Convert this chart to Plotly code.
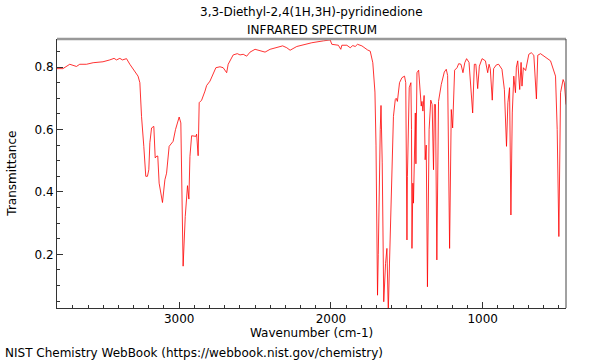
import plotly.graph_objects as go

wavenumber = [
    3805, 3766, 3721, 3677, 3655, 3611, 3567, 3502, 3457, 3429, 3413, 3391, 3374, 3347,
    3325, 3292, 3271, 3259, 3248, 3233, 3220, 3209, 3200, 3193, 3182, 3167, 3158, 3147,
    3141, 3132, 3110, 3094, 3083, 3066, 3040, 3024, 3000, 2989, 2974, 2960, 2945, 2936,
    2929, 2918, 2890, 2885, 2875, 2868, 2852, 2830, 2819, 2797, 2775, 2758, 2731, 2710,
    2687, 2677, 2644, 2617, 2599, 2578, 2555, 2533, 2500, 2467, 2434, 2401, 2357, 2318,
    2291, 2269, 2225, 2126, 2050, 2005, 1994, 1951, 1935, 1928, 1895, 1873, 1856, 1840,
    1825, 1796, 1759, 1741, 1724, 1719, 1710, 1703, 1697, 1693, 1688, 1684, 1675, 1670,
    1665, 1662, 1652, 1645, 1640, 1631, 1627, 1622, 1614, 1605, 1598, 1588, 1576, 1570,
    1562, 1548, 1532, 1515, 1507, 1501, 1499, 1496, 1490, 1484, 1473, 1469, 1466, 1460,
    1456, 1449, 1444, 1440, 1433, 1422, 1411, 1405, 1400, 1394, 1386, 1379, 1372, 1364,
    1353, 1342, 1333, 1324, 1318, 1311, 1302, 1291, 1273, 1253, 1240, 1231, 1218, 1207,
    1198, 1193, 1185, 1169, 1158, 1143, 1130, 1118, 1106, 1090, 1066, 1055, 1045, 1033,
    1022, 1004, 982, 967, 958, 950, 937, 928, 910, 895, 873, 857, 843, 834,
    823, 814, 805, 795, 784, 778, 769, 756, 747, 741, 732, 717, 696, 680,
    663, 646, 637, 619, 586, 553, 520, 509, 498, 487, 470, 462, 451,
]
transmittance = [
    0.795, 0.795, 0.809, 0.802, 0.809, 0.809, 0.814, 0.817, 0.823, 0.828, 0.823, 0.828, 0.823, 0.827,
    0.809, 0.787, 0.771, 0.750, 0.642, 0.546, 0.450, 0.450, 0.471, 0.558, 0.605, 0.610, 0.509, 0.515,
    0.515, 0.428, 0.366, 0.439, 0.460, 0.546, 0.562, 0.600, 0.640, 0.621, 0.162, 0.321, 0.420, 0.377,
    0.514, 0.580, 0.578, 0.585, 0.516, 0.686, 0.694, 0.723, 0.741, 0.755, 0.782, 0.798, 0.801, 0.798,
    0.782, 0.809, 0.839, 0.843, 0.839, 0.841, 0.835, 0.848, 0.857, 0.853, 0.848, 0.857, 0.862, 0.868,
    0.862, 0.854, 0.866, 0.878, 0.884, 0.887, 0.873, 0.870, 0.857, 0.870, 0.870, 0.862, 0.869, 0.866,
    0.873, 0.868, 0.855, 0.851, 0.814, 0.782, 0.720, 0.550, 0.350, 0.069, 0.200, 0.385, 0.600, 0.677,
    0.600, 0.493, 0.048, 0.130, 0.171, 0.219, 0.100, 0.015, 0.172, 0.350, 0.494, 0.642, 0.696, 0.700,
    0.690, 0.750, 0.766, 0.771, 0.750, 0.400, 0.246, 0.450, 0.650, 0.734, 0.750, 0.600, 0.219, 0.428,
    0.364, 0.493, 0.653, 0.490, 0.782, 0.790, 0.707, 0.675, 0.690, 0.659, 0.709, 0.503, 0.550, 0.096,
    0.600, 0.694, 0.680, 0.471, 0.680, 0.680, 0.182, 0.690, 0.744, 0.784, 0.793, 0.773, 0.219, 0.664,
    0.605, 0.707, 0.790, 0.798, 0.811, 0.809, 0.782, 0.814, 0.827, 0.815, 0.653, 0.809, 0.809, 0.731,
    0.803, 0.827, 0.820, 0.782, 0.809, 0.795, 0.694, 0.795, 0.807, 0.809, 0.793, 0.728, 0.546, 0.686,
    0.734, 0.326, 0.653, 0.771, 0.718, 0.800, 0.820, 0.728, 0.815, 0.739, 0.798, 0.789, 0.841, 0.846,
    0.838, 0.698, 0.838, 0.843, 0.830, 0.820, 0.771, 0.600, 0.257, 0.718, 0.760, 0.750, 0.680,
]

x_tickvals = [3000, 2000, 1000]
x_ticktext = ["3000", "2000", "1000"]
y_tickvals = [0.2, 0.4, 0.6, 0.8]
y_ticktext = ["0.2", "0.4", "0.6", "0.8"]

title_line1 = "3,3-Diethyl-2,4(1H,3H)-pyridinedione"
title_line2 = "INFRARED SPECTRUM"
x_title = "Wavenumber (cm-1)"
y_title = "Transmittance"
footer = "NIST Chemistry WebBook (https://webbook.nist.gov/chemistry)"

FONT = "DejaVu Sans"

fig = go.Figure()
fig.add_trace(go.Scatter(
    x=wavenumber, y=transmittance, mode="lines",
    line=dict(color="rgba(255,0,0,0.8)", width=1),
    hoverinfo="skip", showlegend=False,
))

fig.update_layout(
    width=600, height=360,
    margin=dict(l=57, r=34, t=39, b=52),
    paper_bgcolor="white", plot_bgcolor="white",
    font=dict(family=FONT, size=12, color="black"),
    showlegend=False,
    xaxis=dict(
        range=[3805, 451], showgrid=False, zeroline=False,
        showline=True, linecolor="#333333", linewidth=1,
        tickmode="array", tickvals=x_tickvals, ticktext=x_ticktext,
        ticks="inside", ticklen=6, tickcolor="#333333",
        minor=dict(ticks="inside", ticklen=3, dtick=100, tick0=0, tickcolor="#333333", showgrid=False),
        tickfont=dict(family=FONT, size=12, color="black"),
    ),
    yaxis=dict(
        range=[0.028, 0.89], showgrid=False, zeroline=False,
        showline=True, linecolor="#333333", linewidth=1,
        tickmode="array", tickvals=y_tickvals, ticktext=y_ticktext,
        ticks="inside", ticklen=6, tickcolor="#333333",
        minor=dict(ticks="inside", ticklen=3, dtick=0.05, tick0=0, tickcolor="#333333", showgrid=False),
        tickfont=dict(family=FONT, size=12, color="black"),
    ),
    shapes=[
        dict(type="line", xref="paper", yref="paper", x0=0, x1=1, y0=1, y1=1,
             line=dict(color="#999999", width=2.5)),
        dict(type="line", xref="paper", yref="paper", x0=1, x1=1, y0=0, y1=1,
             line=dict(color="#444444", width=1)),
    ],
    annotations=[
        dict(text=title_line1, xref="paper", yref="paper", x=0.5, y=1.099,
             xanchor="center", yanchor="middle", showarrow=False,
             font=dict(family=FONT, size=12, color="black")),
        dict(text=title_line2, xref="paper", yref="paper", x=0.5, y=1.034,
             xanchor="center", yanchor="middle", showarrow=False,
             font=dict(family=FONT, size=12, color="black")),
        dict(text=x_title, xref="paper", yref="paper", x=0.5, y=-0.092,
             xanchor="center", yanchor="middle", showarrow=False,
             font=dict(family=FONT, size=12, color="black")),
        dict(text=y_title, xref="paper", yref="paper", x=-0.09, y=0.5,
             xanchor="center", yanchor="middle", textangle=-90, showarrow=False,
             font=dict(family=FONT, size=12, color="black")),
        dict(text=footer, xref="paper", yref="paper", x=-0.106, y=-0.166,
             xanchor="left", yanchor="middle", showarrow=False,
             font=dict(family=FONT, size=12, color="black")),
    ],
)

# remove the browser's default 8px body margin so the figure sits at the page origin
fig.write_html(
    "out.html",
    config={"displayModeBar": False},
    post_script="document.body.style.margin='0';document.body.style.overflow='hidden';",
)
